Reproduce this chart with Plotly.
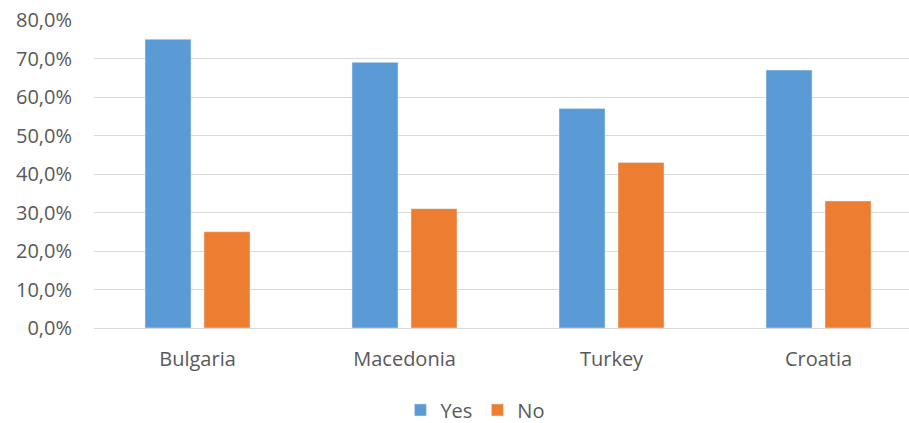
import plotly.graph_objects as go

countries = ["Bulgaria", "Macedonia", "Turkey", "Croatia"]
yes_share = [0.75, 0.69, 0.57, 0.67]
no_share = [0.25, 0.31, 0.43, 0.33]

BLUE = "#5B9BD5"
ORANGE = "#ED7D31"
TEXT = "#595959"
GRID = "#D9D9D9"
FONT = "'Open Sans', 'Noto Sans', sans-serif"
SIZE = 20

fig = go.Figure()
fig.add_trace(go.Bar(name="Yes", x=countries, y=yes_share, marker_color=BLUE))
fig.add_trace(go.Bar(name="No", x=countries, y=no_share, marker_color=ORANGE))

fig.update_layout(
    width=909,
    height=423,
    margin=dict(l=94, r=0, t=20, b=95, autoexpand=False),
    paper_bgcolor="white",
    plot_bgcolor="white",
    separators=", ",
    barmode="group",
    bargap=0.43,
    bargroupgap=0.22,
    font=dict(family=FONT, size=SIZE, color=TEXT),
    showlegend=True,
    legend=dict(
        orientation="h",
        x=0.468,
        xanchor="center",
        y=-0.266,
        yanchor="middle",
        font=dict(size=SIZE, color=TEXT),
        itemwidth=30,
        traceorder="normal",
    ),
)

fig.update_xaxes(
    range=[-0.5, 3.437],
    showgrid=False,
    showline=False,
    ticks="",
    ticklabelstandoff=17,
    tickfont=dict(size=SIZE, color=TEXT),
)
fig.update_yaxes(
    range=[0, 0.8],
    dtick=0.1,
    tickformat=".1%",
    showgrid=True,
    gridcolor=GRID,
    gridwidth=1.3,
    zeroline=True,
    zerolinecolor=GRID,
    zerolinewidth=1.3,
    showline=False,
    ticks="",
    ticklabelstandoff=21,
    tickfont=dict(size=SIZE, color=TEXT),
)

fig.write_html("out.html")
